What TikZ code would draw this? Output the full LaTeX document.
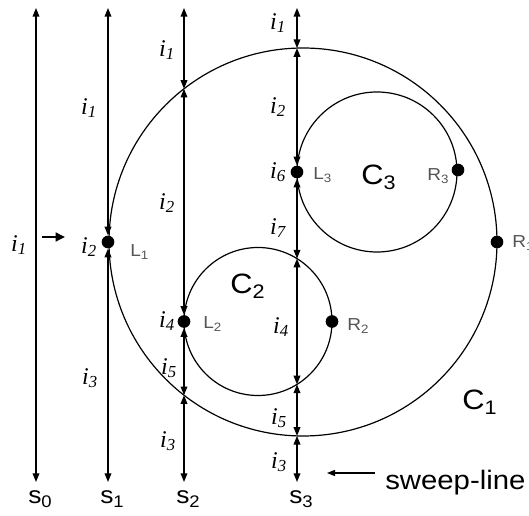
\documentclass[tikz,border=0pt]{standalone}
\usepackage{fontspec}
\setmainfont{Liberation Serif}
\newfontfamily\gulfont[FakeStretch=1.1]{Liberation Sans}
\usetikzlibrary{arrows.meta}
\definecolor{LabGray}{HTML}{555555}

\tikzset{
  seg/.style={line width=1pt,{Triangle[length=6.5pt,width=5pt]}-{Triangle[length=6.5pt,width=5pt]}},
  ring/.style={line width=0.9pt},
  evpt/.style={circle,fill,inner sep=0pt,minimum size=9.5pt},
  ilab/.style={inner sep=0pt,font=\fontsize{18}{18}\selectfont\itshape},
  evlab/.style={inner sep=0pt,anchor=base west,text=LabGray,font=\gulfont\fontsize{13}{13}\selectfont},
  clab/.style={inner sep=0pt,anchor=base west,font=\gulfont\fontsize{21}{21}\selectfont},
  slab/.style={inner sep=0pt,anchor=base west,font=\gulfont\fontsize{18}{18}\selectfont},
}

\begin{document}
\begin{tikzpicture}[x=0.75pt,y=-0.75pt]
\useasboundingbox (0,0) rectangle (529,516);

% circles
\coordinate (c1) at (303,242);
\coordinate (c2) at (258,321.5);
\coordinate (c3) at (377,172);
\draw[ring] (c1) circle[radius=194];
\draw[ring] (c2) circle[radius=74];
\draw[ring] (c3) circle[radius=80];

% end points of the circles
\node[evpt] (L1) at (108,242) {};
\node[evpt] (R1) at (497,242) {};
\node[evpt] (L2) at (184,321.5) {};
\node[evpt] (R2) at (332,321.5) {};
\node[evpt] (L3) at (297,172) {};
\node[evpt] (R3) at (458,170) {};

\node[evlab] (L1-lab) at (130,257) {L\textsubscript{1}};
\node[evlab] (R1-lab) at (512,248) {R\textsubscript{1}};
\node[evlab] (L2-lab) at (203,329) {L\textsubscript{2}};
\node[evlab] (R2-lab) at (347,331) {R\textsubscript{2}};
\node[evlab] (L3-lab) at (313,180) {L\textsubscript{3}};
\node[evlab] (R3-lab) at (427,181) {R\textsubscript{3}};

\node[clab] (C1-lab) at (462,410) {C\textsubscript{1}};
\node[clab] (C2-lab) at (230,294) {C\textsubscript{2}};
\node[clab] (C3-lab) at (361,185) {C\textsubscript{3}};

% sweep positions
\foreach \n/\x in {0/36,1/108,2/184,3/297}{
  \coordinate (t\n) at (\x,8);
  \coordinate (b\n) at (\x,482);
  \node[slab] (s\n) at (\x-8,504) {s\textsubscript{\n}};
}

% crossings with the circles
\coordinate (p21) at (184,88.8);
\coordinate (p22) at (184,395.2);
\coordinate (p31) at (297,48.1);
\coordinate (p32) at (297,258.6);
\coordinate (p33) at (297,384.4);
\coordinate (p34) at (297,435.9);

\draw[seg] (t0) -- (b0);
\foreach \a/\b in {t1/L1,L1/b1,t2/p21,p21/L2,L2/p22,p22/b2,
                   t3/p31,p31/L3,L3/p32,p32/p33,p33/p34,p34/b3}
  \draw[seg] (\a) -- (\b);

% interval labels
\foreach \s/\k/\xx/\yy in {0/1/19/245,
    1/1/89/108, 1/2/89/247, 1/3/90/378,
    2/1/167/50, 2/2/167/203, 2/4/167/321, 2/5/169/368, 2/3/168/441,
    3/1/278/23, 3/2/278/107, 3/6/278/172, 3/7/278/228, 3/4/281/327,
    3/5/279/418, 3/3/279/462}
  \node[ilab] (i\s-\k) at (\xx,\yy) {i\textsubscript{\k}};

% step from s0 to s1
\coordinate (stepA) at (42,237);
\coordinate (stepB) at (65,237);
\draw[line width=1.8pt,-{Triangle[length=7pt,width=6.5pt]}] (stepA) -- (stepB);

% sweep-line
\node[slab,font=\gulfont\fontsize{20}{20}\selectfont] (sweep) at (385,490) {sweep-line};
\coordinate (sweeptip) at (327,473);
\draw[line width=0.8pt,-{Triangle[length=6pt,width=4.5pt]}] (sweeptip -| sweep.west) ++(-10,0) -- (sweeptip);
\end{tikzpicture}
\end{document}
